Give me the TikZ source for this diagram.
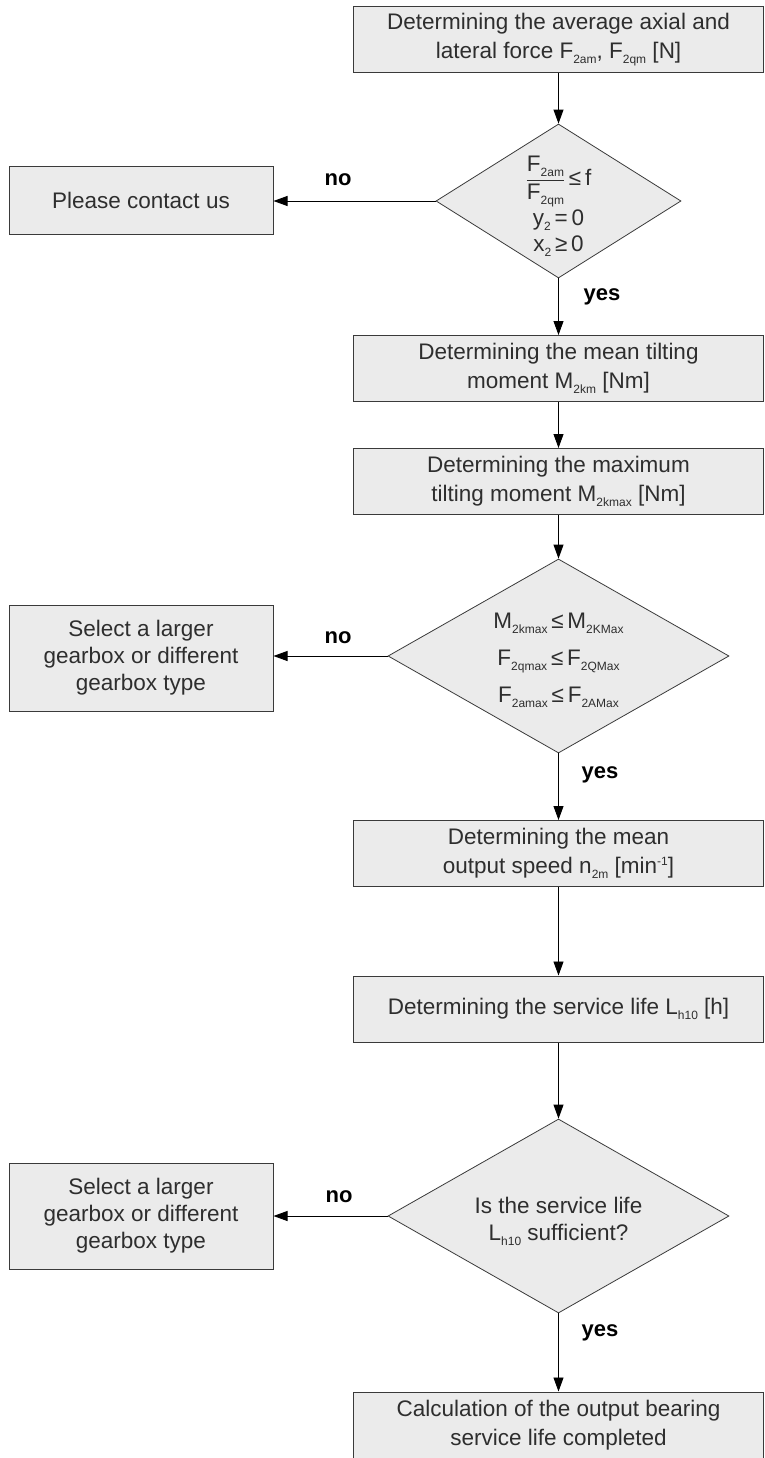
\documentclass[tikz,border=0pt]{standalone}
\usepackage{fontspec}
\setmainfont{Liberation Sans}
\usetikzlibrary{shapes.geometric,arrows.meta}
\definecolor{boxfill}{HTML}{EBEBEB}
\definecolor{boxline}{HTML}{3A3A3A}
\definecolor{txt}{HTML}{2E2E2E}
\newcommand{\sbs}[1]{\raisebox{-5pt}{\fontsize{12}{12}\selectfont #1}}
\newcommand{\sps}[1]{\raisebox{8pt}{\fontsize{12}{12}\selectfont #1}}
\begin{document}
\begin{tikzpicture}[x=1pt,y=-1pt,
  base/.style={font=\fontsize{22.5}{29}\selectfont, text=txt},
  proc/.style={base, draw=boxline, fill=boxfill, line width=1pt, rectangle,
    minimum width=410pt, minimum height=66pt, align=center, inner sep=0pt},
  side/.style={proc, minimum width=264pt},
  sidethree/.style={side, minimum height=106pt, font=\fontsize{22.5}{27}\selectfont},
  dec/.style={diamond, draw=boxline, fill=boxfill, line width=0.8pt, inner sep=0pt},
  dectext/.style={base, align=center, inner sep=0pt},
  arr/.style={draw=black, line width=0.9pt, -{Triangle[length=14pt,width=10pt]}},
  lbl/.style={font=\fontsize{22}{26}\selectfont\bfseries, text=black}
]
\useasboundingbox (0,0) rectangle (764,1458);

% main column
\node[proc] (b1) at (558.5,40) {Determining the average axial and\\lateral force F\sbs{2am}, F\sbs{2qm} [N]};
\node[dec, minimum width=245pt, minimum height=154pt] (d1) at (558.5,201) {};
\node[dectext, font=\fontsize{22.5}{26}\selectfont] (d1t) at (558.5,206)
  {$\displaystyle\frac{\hbox{F\sbs{2am}}}{\hbox{F\sbs{2qm}}}$\,≤\,f\\[2pt]y\sbs{2}\,=\,0\\x\sbs{2}\,≥\,0};
\node[proc] (b2) at (558.5,368.5) {Determining the mean tilting\\moment M\sbs{2km} [Nm]};
\node[proc] (b3) at (558.5,481.5) {Determining the maximum\\tilting moment M\sbs{2kmax} [Nm]};
\node[dec, minimum width=341pt, minimum height=194pt] (d2) at (558.5,656) {};
\node[dectext, font=\fontsize{22.5}{37}\selectfont] (d2t) at (558.5,660)
  {M\sbs{2kmax}\,≤\,M\sbs{2KMax}\\F\sbs{2qmax}\,≤\,F\sbs{2QMax}\\F\sbs{2amax}\,≤\,F\sbs{2AMax}};
\node[proc] (b4) at (558.5,853.5) {Determining the mean\\output speed n\sbs{2m} [min\sps{-1}]};
\node[proc] (b5) at (558.5,1009) {Determining the service life L\sbs{h10} [h]};
\node[dec, minimum width=341pt, minimum height=194pt] (d3) at (558.5,1216) {};
\node[dectext, font=\fontsize{22.5}{27}\selectfont] (d3t) at (558.5,1221)
  {Is the service life\\L\sbs{h10} sufficient?};
\node[proc] (b6) at (558.5,1425) {Calculation of the output bearing\\service life completed};

% side boxes
\node[side, minimum height=67pt] (l1) at (141,200.5) {Please contact us};
\node[sidethree] (l2) at (141,658) {Select a larger\\gearbox or different\\gearbox type};
\node[sidethree] (l3) at (141,1216) {Select a larger\\gearbox or different\\gearbox type};

% connectors
\draw[arr] (b1) -- (d1);
\draw[arr] (d1) -- (b2);
\draw[arr] (b2) -- (b3);
\draw[arr] (b3) -- (d2);
\draw[arr] (d2) -- (b4);
\draw[arr] (b4) -- (b5);
\draw[arr] (b5) -- (d3);
\draw[arr] (d3) -- (b6);
\draw[arr] (d1.west) -- (d1.west -| l1.east);
\draw[arr] (d2.west) -- (d2.west -| l2.east);
\draw[arr] (d3.west) -- (d3.west -| l3.east);

% labels
\node[lbl] (no1) at (338,180) {no};
\node[lbl] (no2) at (338,638) {no};
\node[lbl] (no3) at (339,1197) {no};
\node[lbl] (yes1) at (602,297) {yes};
\node[lbl] (yes2) at (600,775) {yes};
\node[lbl] (yes3) at (600,1333) {yes};
\end{tikzpicture}
\end{document}
